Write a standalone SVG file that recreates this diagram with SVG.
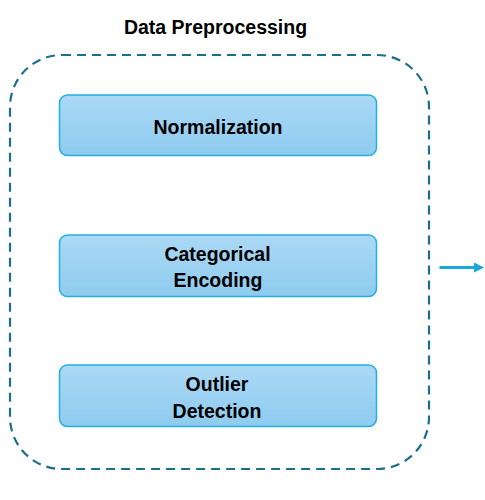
<svg xmlns="http://www.w3.org/2000/svg" width="485" height="500" viewBox="0 0 485 500">
<defs>
<linearGradient id="g" x1="0" y1="0" x2="0" y2="1">
<stop offset="0" stop-color="#abd9f5"/>
<stop offset="1" stop-color="#8ecbef"/>
</linearGradient>
<marker id="ah" markerWidth="10" markerHeight="10" refX="8" refY="5" orient="auto" markerUnits="userSpaceOnUse">
<path d="M0,0 L10,5 L0,10 Z" fill="#1aa8dc"/>
</marker>
<style>
.box{fill:url(#g);stroke:#22b0e0;stroke-width:1.5}
.t{font-family:"Liberation Sans",Arial,sans-serif;font-weight:bold;font-size:19.5px;fill:#000;text-anchor:middle}
</style>
</defs>
<rect width="485" height="500" fill="#fff"/>
<g id="container">
<rect x="10" y="55" width="419" height="414" rx="52" ry="52" fill="none" stroke="#1b6f8d" stroke-width="2.2" stroke-dasharray="9,6"/>
<text class="t" x="215.5" y="34">Data Preprocessing</text>
</g>
<g id="normalization">
<rect class="box" x="59.5" y="95" width="317" height="60.5" rx="8"/>
<text class="t" x="218" y="134">Normalization</text>
</g>
<g id="categorical-encoding">
<rect class="box" x="59.5" y="235" width="317" height="61.5" rx="8"/>
<text class="t" x="217.5" y="261">Categorical</text>
<text class="t" x="218" y="287">Encoding</text>
</g>
<g id="outlier-detection">
<rect class="box" x="59.5" y="365" width="317" height="61.5" rx="8"/>
<text class="t" x="217" y="391">Outlier</text>
<text class="t" x="217" y="418">Detection</text>
</g>
<g id="connectors">
<line x1="439.5" y1="267.5" x2="482" y2="267.5" stroke="#1aa8dc" stroke-width="3" marker-end="url(#ah)"/>
</g>
</svg>
